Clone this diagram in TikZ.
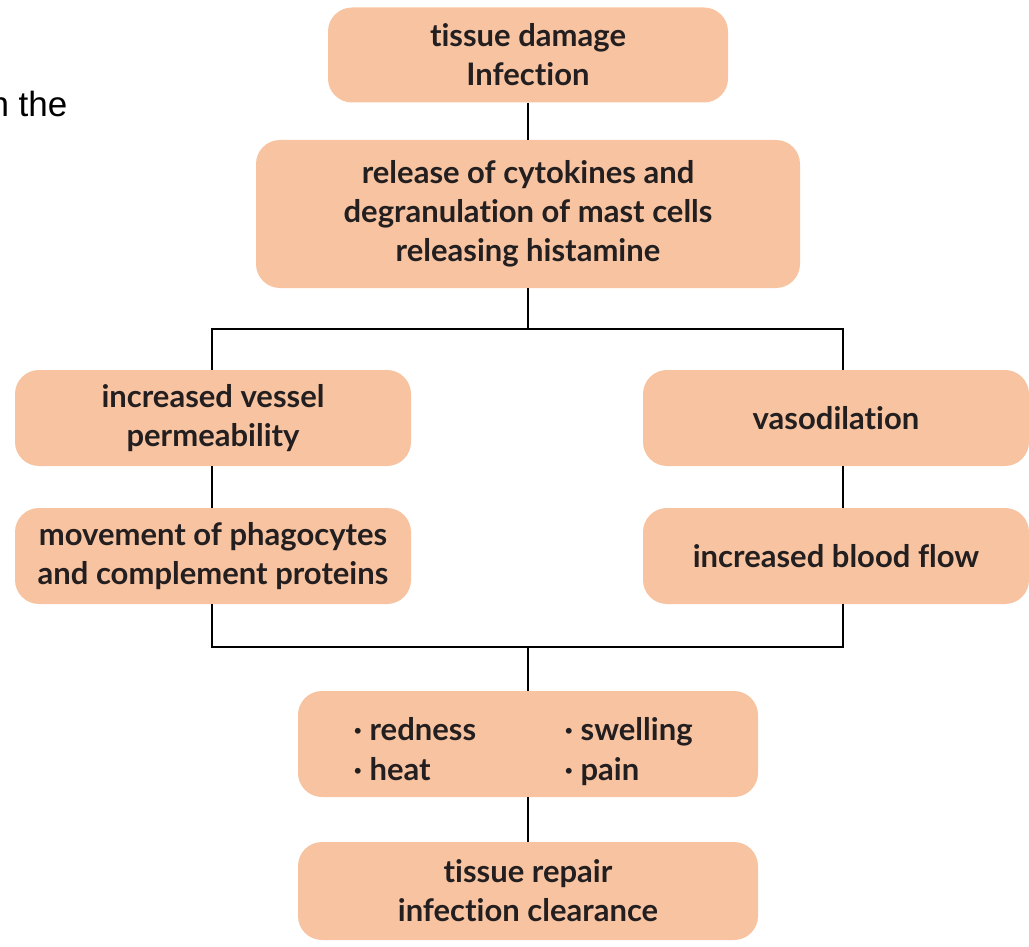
\documentclass[tikz,border=0pt]{standalone}
\usepackage{fontspec}
\setmainfont{Lato}[Ligatures=NoCommon]
\newfontfamily\arialfont{Liberation Sans}
\usepackage{tikz}
\tikzset{>=stealth}
\usetikzlibrary{positioning}
\definecolor{peach}{RGB}{247,195,160}
\definecolor{ink}{RGB}{35,31,32}
\tikzset{
  stage/.style={fill=peach, rounded corners=24pt, align=center, text=ink,
    font=\fontsize{31}{39}\selectfont\bfseries, inner sep=0pt},
  link/.style={line width=1.6pt, black}
}

\begin{document}
\begin{tikzpicture}[x=1pt,y=-1pt]
            \useasboundingbox (0,0) rectangle (1029,947);
            \node[anchor=west, font=\arialfont\fontsize{35}{40}\selectfont] (cut) at (-14,104) {n the};
            \node[stage, minimum width=400pt, minimum height=95pt] (dmg) at (528,55) {tissue damage\\Infection};
            \node[stage, minimum width=544pt, minimum height=148pt] (rel) at (528,214) {release of cytokines and\\degranulation of mast cells\\releasing histamine};
            \node[stage, minimum width=396pt, minimum height=96pt] (perm) at (213,418) {increased vessel\\permeability};
            \node[stage, minimum width=396pt, minimum height=96pt] (phago) at (213,556) {movement of phagocytes\\and complement proteins};
            \node[stage, minimum width=386pt, minimum height=96pt] (vaso) at (836,418) {vasodilation};
            \node[stage, minimum width=386pt, minimum height=96pt] (flow) at (836,556) {increased blood flow};
            \node[stage, minimum width=460pt, minimum height=106pt] (sympt) at (528,744) {%
              \raisebox{-15pt}[0pt][0pt]{\begin{tabular}{@{}p{211pt}@{}l@{}}
              · redness & · swelling\\[1pt]
              · heat & · pain
              \end{tabular}}\hspace*{10pt}};
            \node[stage, minimum width=460pt, minimum height=98pt] (repair) at (528,891) {tissue repair\\infection clearance};
            % branch points
            \coordinate (splt) at (528,329);
            \coordinate (lt) at (212,329);
            \coordinate (rt) at (843,329);
            \coordinate (lb) at (212,647);
            \coordinate (rb) at (843,647);
            \coordinate (join) at (528,647);
            \draw[link] (dmg) -- (rel);
            \draw[link] (rel) -- (splt);
            \draw[link] (lt |- perm.north) -- (lt) -- (rt) -- (rt |- vaso.north);
            \draw[link] (lt |- perm.south) -- (lt |- phago.north);
            \draw[link] (rt |- vaso.south) -- (rt |- flow.north);
            \draw[link] (lt |- phago.south) -- (lb) -- (rb) -- (rt |- flow.south);
            \draw[link] (join) -- (sympt);
            \draw[link] (sympt) -- (repair);
        \end{tikzpicture}
\end{document}
